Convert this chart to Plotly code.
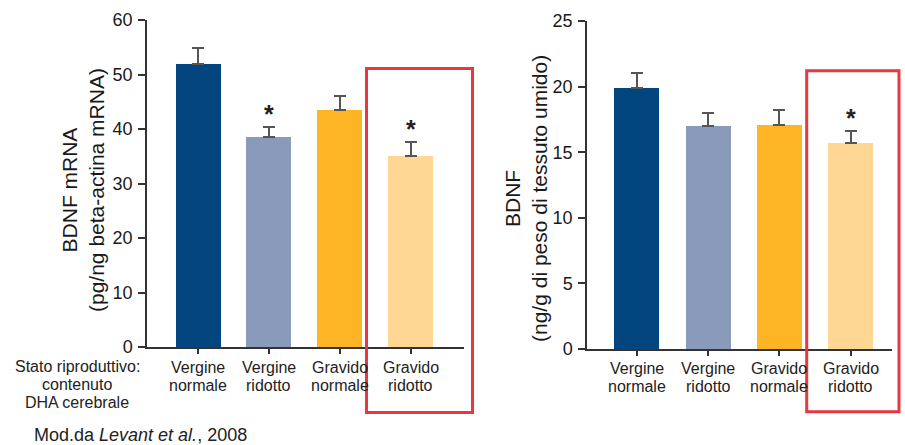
import plotly.graph_objects as go

# ---- data ----
categories = ["Vergine\nnormale", "Vergine\nridotto", "Gravido\nnormale", "Gravido\nridotto"]
mrna_values = [52.0, 38.5, 43.5, 35.0]
mrna_errors = [2.9, 1.9, 2.5, 2.6]
mrna_sig = ["", "*", "", "*"]
protein_values = [19.9, 17.0, 17.1, 15.7]
protein_errors = [1.1, 1.0, 1.1, 0.95]
protein_sig = ["", "", "", "*"]
bar_colors = ["#03457e", "#8a9aba", "#fdb526", "#fed794"]
left_ticks = [0, 10, 20, 30, 40, 50, 60]
right_ticks = [0, 5, 10, 15, 20, 25]
left_title = ["BDNF mRNA", "(pg/ng beta-actina mRNA)"]
right_title = ["BDNF", "(ng/g di peso di tessuto umido)"]
row_label = ["Stato riproduttivo:", "contenuto", "DHA cerebrale"]
source_text = "Mod.da <i>Levant et al.</i>, 2008"

FONT = "Liberation Sans, Arial, Helvetica, sans-serif"
W, H = 905, 445
AX = "#333333"

xs = list(range(len(categories)))

fig = go.Figure()
fig.add_trace(go.Bar(
    x=xs, y=mrna_values, width=0.635, marker=dict(color=bar_colors, line=dict(width=0)),
    error_y=dict(type="data", array=mrna_errors, arrayminus=[0] * len(xs), symmetric=False,
                 color="#555555", thickness=2, width=6),
    xaxis="x", yaxis="y", showlegend=False, hoverinfo="skip"))
fig.add_trace(go.Bar(
    x=xs, y=protein_values, width=0.63, marker=dict(color=bar_colors, line=dict(width=0)),
    error_y=dict(type="data", array=protein_errors, arrayminus=[0] * len(xs), symmetric=False,
                 color="#555555", thickness=2, width=6),
    xaxis="x2", yaxis="y2", showlegend=False, hoverinfo="skip"))

common_x = dict(showgrid=False, zeroline=False, showline=True, linecolor=AX, linewidth=1.5,
                ticks="outside", ticklen=5, tickwidth=1.5, tickcolor=AX,
                tickvals=xs, showticklabels=False, fixedrange=True, automargin=False)
common_y = dict(showgrid=False, zeroline=False, showline=True, linecolor=AX, linewidth=1.5,
                ticks="outside", ticklen=7, tickwidth=1.5, tickcolor=AX, automargin=False,
                tickfont=dict(family=FONT, size=18, color="#1a1a1a"), ticklabelstandoff=2)

fig.update_layout(
    width=W, height=H, autosize=False,
    margin=dict(l=0, r=0, t=0, b=0, pad=0, autoexpand=False),
    paper_bgcolor="white", plot_bgcolor="white",
    font=dict(family=FONT, color="#222222"),
    bargap=0,
    xaxis=dict(domain=[147 / W, 464 / W], range=[-0.72, 3.75], anchor="y", **common_x),
    yaxis=dict(domain=[1 - 347 / H, 1 - 20 / H], range=[0, 60], tickvals=left_ticks,
               anchor="x", **common_y),
    xaxis2=dict(domain=[587 / W, 892 / W], range=[-0.70, 3.58], anchor="y2", **common_x),
    yaxis2=dict(domain=[1 - 349 / H, 1 - 21 / H], range=[0, 25], tickvals=right_ticks,
                anchor="x2", **common_y),
)

ann = []
# category labels (one annotation per line)
for xref, ytop in (("x", 367), ("x2", 368)):
    for i, cat in enumerate(categories):
        for j, line in enumerate(cat.split("\n")):
            ann.append(dict(x=i, xref=xref, y=1 - (ytop + 18 * j) / H, yref="paper",
                            text=line, showarrow=False, xanchor="center", yanchor="middle",
                            font=dict(family=FONT, size=16, color="#222222")))
# row label at left
for j, line in enumerate(row_label):
    ann.append(dict(x=77 / W, xref="paper", y=1 - (366 + 18 * j) / H, yref="paper",
                    text=line, showarrow=False, xanchor="center", yanchor="middle",
                    font=dict(family=FONT, size=16, color="#222222")))
# significance asterisks
for xref, yref, vals, errs, sigs in (("x", "y", mrna_values, mrna_errors, mrna_sig),
                                     ("x2", "y2", protein_values, protein_errors, protein_sig)):
    for i, s in enumerate(sigs):
        if s:
            ann.append(dict(x=i, xref=xref, y=vals[i] + errs[i], yref=yref, text="<b>" + s + "</b>",
                            showarrow=False, xanchor="center", yanchor="bottom", yshift=-3,
                            font=dict(family=FONT, size=25, color="#222222")))
# axis titles
for cx, cy, lines in ((83, 190, left_title), (526, 199, right_title)):
    ann.append(dict(x=cx / W, xref="paper", y=1 - cy / H, yref="paper",
                    text="<br>".join(lines), textangle=-90, showarrow=False,
                    xanchor="center", yanchor="middle",
                    font=dict(family=FONT, size=21, color="#1a1a1a")))
# source
ann.append(dict(x=32 / W, xref="paper", y=1 - 435 / H, yref="paper", text=source_text,
                showarrow=False, xanchor="left", yanchor="middle",
                font=dict(family=FONT, size=18, color="#222222")))
fig.update_layout(annotations=ann)

# highlight boxes around the last group
red = "#e8373f"
fig.add_shape(type="rect", xref="paper", yref="paper",
              x0=366.5 / W, x1=472.5 / W, y0=1 - 412.5 / H, y1=1 - 68.5 / H,
              line=dict(color=red, width=3), fillcolor="rgba(0,0,0,0)", layer="above")
fig.add_shape(type="rect", xref="paper", yref="paper",
              x0=806.7 / W, x1=899 / W, y0=1 - 411.7 / H, y1=1 - 70.7 / H,
              line=dict(color=red, width=3), fillcolor="rgba(0,0,0,0)", layer="above")

post = ("document.body.style.margin='0';document.body.style.padding='0';"
        "document.documentElement.style.overflow='hidden';document.body.style.overflow='hidden';"
        "var gd=document.getElementById('{plot_id}');"
        "Plotly.relayout(gd,{width:%d,height:%d});" % (W, H))
fig.write_html("out.html", config={"responsive": False, "displayModeBar": False},
               post_script=post)
